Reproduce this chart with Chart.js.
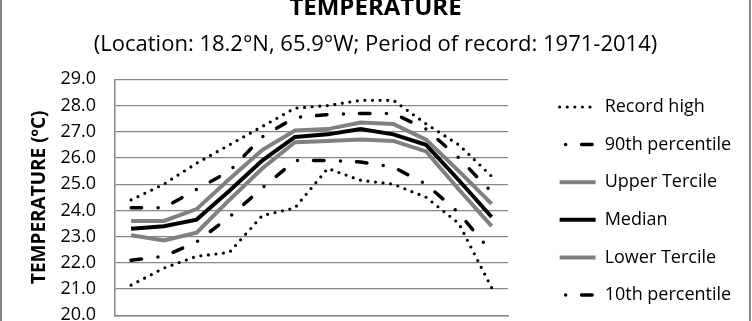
<!DOCTYPE html>
<html>
<head>
<meta charset="utf-8">
<script src="https://cdn.jsdelivr.net/npm/chart.js@4.4.1/dist/chart.umd.min.js"></script>
<style>
  html, body { margin: 0; padding: 0; background: #fff; }
  #view { position: relative; width: 752px; height: 321px; overflow: hidden; background: #fff; }
  #frame { position: absolute; left: 0; top: -24px; width: 747px; height: 402px; border: 2px solid #868686; background: #fff; }
</style>
</head>
<body>
<div id="view"><div id="frame"><canvas id="myChart" width="747" height="402"></canvas></div></div>
<script>
var months = ['Jan', 'Feb', 'Mar', 'Apr', 'May', 'Jun', 'Jul', 'Aug', 'Sep', 'Oct', 'Nov', 'Dec']
var recordHigh = [24.4, 25.0, 25.8, 26.5, 27.2, 27.9, 28.0, 28.2, 28.2, 27.3, 26.5, 25.3]
var pct90 = [24.1, 24.1, 24.8, 25.5, 26.8, 27.55, 27.65, 27.7, 27.7, 27.1, 26.0, 24.7]
var upperTercile = [23.6, 23.6, 24.05, 25.2, 26.3, 27.05, 27.1, 27.35, 27.3, 26.7, 25.5, 24.25]
var median = [23.3, 23.4, 23.65, 24.75, 25.9, 26.8, 26.9, 27.1, 26.9, 26.5, 25.15, 23.75]
var lowerTercile = [23.05, 22.85, 23.15, 24.4, 25.6, 26.6, 26.65, 26.7, 26.65, 26.25, 24.8, 23.4]
var pct10 = [22.1, 22.25, 22.8, 23.75, 24.85, 25.9, 25.9, 25.85, 25.65, 25.0, 23.9, 22.4]
var recordLow = [21.15, 21.8, 22.25, 22.4, 23.8, 24.1, 25.6, 25.15, 25.0, 24.5, 23.5, 21.05]
var yMin = 20, yMax = 29, yStep = 1

var font = 'Open Sans'
var gridGray = '#868686'
var dotted = [0, 7.6]
var dashDot = [10.5, 16.5, 0, 16]

function series(label, data, color, width, dash) {
  return {
    label: label,
    data: data,
    borderColor: color,
    backgroundColor: color,
    borderWidth: width,
    borderDash: dash,
    borderCapStyle: dash.length ? 'round' : 'butt',
    pointRadius: 0,
    pointHoverRadius: 0,
    tension: 0,
    fill: false
  }
}

var ctx = document.getElementById('myChart').getContext('2d')
var chart = new Chart(ctx, {
  type: 'line',
  data: {
    labels: months,
    datasets: [
      series('Record high', recordHigh, '#000', 3.2, dotted),
      series('90th percentile', pct90, '#000', 3.5, dashDot),
      series('Upper Tercile', upperTercile, '#808080', 4, []),
      series('Median', median, '#000', 4, []),
      series('Lower Tercile', lowerTercile, '#808080', 4, []),
      series('10th percentile', pct10, '#000', 3.5, dashDot),
      series('Record low', recordLow, '#000', 3.2, dotted)
    ]
  },
  options: {
    responsive: false,
    animation: false,
    devicePixelRatio: 1,
    layout: { padding: { left: 7.8, right: 7.8, top: 0, bottom: 8 } },
    plugins: {
      title: {
        display: true,
        text: 'TEMPERATURE',
        color: '#000',
        font: { family: font, size: 24, weight: 'bold' },
        padding: { top: 15.8, bottom: 0 }
      },
      subtitle: {
        display: true,
        text: '(Location: 18.2°N, 65.9°W; Period of record: 1971-2014)',
        color: '#000',
        font: { family: font, size: 22 },
        padding: { top: 8.9, bottom: 21.4 }
      },
      legend: {
        position: 'right',
        align: 'start',
        maxWidth: 300,
        // empty title only pushes the first entry down to the plot top
        title: { display: true, text: '', font: { size: 10 }, padding: { top: 88.4, bottom: 0 } },
        labels: {
          color: '#000',
          font: { family: font, size: 18 },
          usePointStyle: true,
          pointStyle: 'line',
          pointStyleWidth: 36,
          padding: 19.6,
          generateLabels: function (chart) {
            var items = Chart.defaults.plugins.legend.labels.generateLabels(chart)
            items.forEach(function (item) {
              var ds = chart.data.datasets[item.datasetIndex]
              item.lineDash = ds.borderDash
              item.lineCap = ds.borderCapStyle
              item.lineWidth = ds.borderWidth
              item.strokeStyle = ds.borderColor
              // legend sample starts with the dot, like the original
              if (ds.borderDash.length == 4) item.lineDashOffset = 21
            })
            return items
          }
        }
      },
      tooltip: { enabled: false }
    },
    scales: {
      x: {
        offset: true,
        grid: { display: false },
        border: { display: true, color: gridGray, width: 1.5 },
        ticks: { color: '#000', font: { family: font, size: 18 }, maxRotation: 0 },
        afterFit: function (s) { s.height = 56.7 }
      },
      y: {
        min: yMin,
        max: yMax,
        ticks: {
          stepSize: yStep,
          color: '#000',
          padding: 18.7,
          font: { family: font, size: 18 },
          callback: function (v) { return v.toFixed(1) }
        },
        grid: { color: gridGray, lineWidth: 1.3, drawTicks: false },
        border: { display: true, color: gridGray, width: 1.5 },
        title: {
          display: true,
          text: 'TEMPERATURE (ºC)',
          color: '#000',
          font: { family: font, size: 19, weight: 'bold' },
          padding: { top: 18.2, bottom: 0 }
        },
        afterFit: function (s) { s.width = 104.9 }
      },
      // empty axis: keeps the gap between the plot and the legend
      gap: {
        axis: 'y',
        type: 'linear',
        position: 'right',
        display: true,
        grid: { display: false },
        border: { display: false },
        ticks: { display: false },
        afterFit: function (s) { s.width = 32 }
      }
    }
  }
})
</script>
</body>
</html>
